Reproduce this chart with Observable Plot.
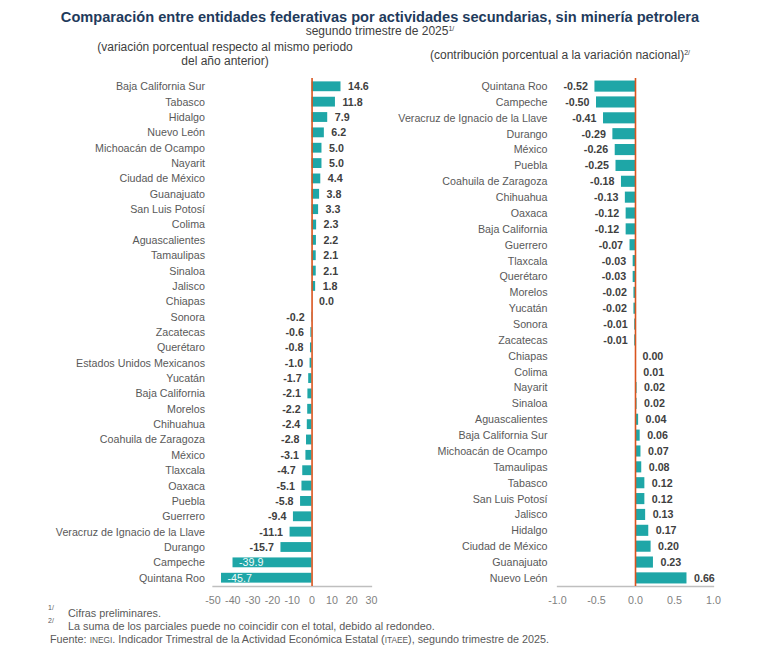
<!DOCTYPE html>
<html>
<head>
<meta charset="utf-8">
<script src="https://cdn.jsdelivr.net/npm/d3@7"></script>
<script src="https://cdn.jsdelivr.net/npm/@observablehq/plot@0.6"></script>
<style>
  body { margin: 0; background: #fff; font-family: "Liberation Sans", Arial, sans-serif; }
  #wrap { position: relative; width: 778px; height: 645px; overflow: hidden; background: #fff; }
  .abs { position: absolute; white-space: nowrap; }
  #title { left: 0; width: 760px; top: 8px; text-align: center; font-size: 14.6px; font-weight: bold; color: #1f3b5c; line-height: 18px; }
  #subtitle { left: 0; width: 760px; top: 24px; text-align: center; font-size: 12px; color: #404040; line-height: 14px; }
  #lhead { left: 75px; width: 300px; top: 40px; text-align: center; font-size: 12px; color: #404040; line-height: 14px; }
  #rhead { left: 430px; top: 48px; font-size: 12px; color: #404040; line-height: 14px; }
  sup { font-size: 7px; vertical-align: 4px; line-height: 0; }
  .fn { font-size: 10.8px; color: #595959; line-height: 12px; }
  .sc { font-size: 8.3px; }
  #left { left: 0; top: 60px; width: 390px; }
  #right { left: 390px; top: 60px; width: 388px; }
</style>
</head>
<body>
<div id="wrap">
  <div class="abs" id="left"></div>
  <div class="abs" id="right"></div>
  <div class="abs" id="title">Comparación entre entidades federativas por actividades secundarias, sin minería petrolera</div>
  <div class="abs" id="subtitle">segundo trimestre de 2025<sup>1/</sup></div>
  <div class="abs" id="lhead">(variación porcentual respecto al mismo periodo<br>del año anterior)</div>
  <div class="abs" id="rhead">(contribución porcentual a la variación nacional)<sup>2/</sup></div>
  <div class="abs fn" style="left:48px; top:604px;"><sup>1/</sup></div>
  <div class="abs fn" style="left:68px; top:607px;">Cifras preliminares.</div>
  <div class="abs fn" style="left:48px; top:617px;"><sup>2/</sup></div>
  <div class="abs fn" style="left:68px; top:620px;">La suma de los parciales puede no coincidir con el total, debido al redondeo.</div>
  <div class="abs fn" style="left:50px; top:633px;">Fuente: <span class="sc">INEGI</span>. Indicador Trimestral de la Actividad Económica Estatal (<span class="sc">ITAEE</span>), segundo trimestre de 2025.</div>
</div>
<script>
// Left panel: variación porcentual anual
const leftStates = [
  "Baja California Sur", "Tabasco", "Hidalgo", "Nuevo León", "Michoacán de Ocampo",
  "Nayarit", "Ciudad de México", "Guanajuato", "San Luis Potosí", "Colima",
  "Aguascalientes", "Tamaulipas", "Sinaloa", "Jalisco", "Chiapas",
  "Sonora", "Zacatecas", "Querétaro", "Estados Unidos Mexicanos", "Yucatán",
  "Baja California", "Morelos", "Chihuahua", "Coahuila de Zaragoza", "México",
  "Tlaxcala", "Oaxaca", "Puebla", "Guerrero", "Veracruz de Ignacio de la Llave",
  "Durango", "Campeche", "Quintana Roo"
];
const leftValues = [
  14.6, 11.8, 7.9, 6.2, 5.0,
  5.0, 4.4, 3.8, 3.3, 2.3,
  2.2, 2.1, 2.1, 1.8, 0.0,
  -0.2, -0.6, -0.8, -1.0, -1.7,
  -2.1, -2.2, -2.4, -2.8, -3.1,
  -4.7, -5.1, -5.8, -9.4, -11.1,
  -15.7, -39.9, -45.7
];
const leftTicks = [-50, -40, -30, -20, -10, 0, 10, 20, 30];

// Right panel: contribución porcentual a la variación nacional
const rightStates = [
  "Quintana Roo", "Campeche", "Veracruz de Ignacio de la Llave", "Durango", "México",
  "Puebla", "Coahuila de Zaragoza", "Chihuahua", "Oaxaca", "Baja California",
  "Guerrero", "Tlaxcala", "Querétaro", "Morelos", "Yucatán",
  "Sonora", "Zacatecas", "Chiapas", "Colima", "Nayarit",
  "Sinaloa", "Aguascalientes", "Baja California Sur", "Michoacán de Ocampo", "Tamaulipas",
  "Tabasco", "San Luis Potosí", "Jalisco", "Hidalgo", "Ciudad de México",
  "Guanajuato", "Nuevo León"
];
const rightValues = [
  -0.52, -0.50, -0.41, -0.29, -0.26,
  -0.25, -0.18, -0.13, -0.12, -0.12,
  -0.07, -0.03, -0.03, -0.02, -0.02,
  -0.01, -0.01, 0.00, 0.01, 0.02,
  0.02, 0.04, 0.06, 0.07, 0.08,
  0.12, 0.12, 0.13, 0.17, 0.20,
  0.23, 0.66
];
const rightTicks = [-1.0, -0.5, 0.0, 0.5, 1.0];

const TEAL = "#1ea6a7";
const RED = "#d9541e";

function panel(o) {
  const data = o.states.map((s, i) => ({state: s, value: o.values[i]}));
  const fmt = (v) => v.toFixed(o.decimals);
  const isInside = (d) => o.insideBelow !== undefined && d.value < o.insideBelow;
  const pos = data.filter(d => !isInside(d) && d.value >= 0);
  const neg = data.filter(d => !isInside(d) && d.value < 0);
  const ins = data.filter(d => isInside(d));
  return Plot.plot({
    width: o.width,
    height: 560,
    marginTop: 18,
    marginBottom: 34,
    marginLeft: o.marginLeft,
    marginRight: o.marginRight,
    style: {fontFamily: "'Liberation Sans', Arial, sans-serif", fontSize: "10.7px", background: "transparent", color: "#595959"},
    x: {domain: o.domain},
    y: {domain: o.states, paddingInner: o.pIn, paddingOuter: o.pOut, round: false},
    marks: [
      Plot.frame({anchor: "bottom", stroke: "#bfbfbf", strokeWidth: 1.3}),
      Plot.barX(data, {x: "value", y: "state", fill: TEAL}),
      Plot.ruleX([0], {stroke: RED, strokeWidth: 1.6}),
      Plot.text(pos, {x: "value", y: "state", text: d => fmt(d.value), textAnchor: "start", dx: o.dx, fontWeight: "bold", fill: "#404040"}),
      Plot.text(neg, {x: "value", y: "state", text: d => fmt(d.value), textAnchor: "end", dx: -o.dx, fontWeight: "bold", fill: "#404040"}),
      Plot.text(ins, {x: "value", y: "state", text: d => fmt(d.value), textAnchor: "start", dx: 6, fill: "#f2fafa"}),
      Plot.axisX({ticks: o.ticks, tickFormat: d => o.tickFmt(d), tickSize: 0, tickPadding: 10, fill: "#7f7f7f", label: null}),
      Plot.axisY({tickSize: 0, tickPadding: o.yPad, fill: "#595959", label: null})
    ]
  });
}

document.getElementById("left").appendChild(panel({
  states: leftStates, values: leftValues, ticks: leftTicks,
  tickFmt: d => String(d), decimals: 1, domain: [-50, 30],
  width: 390, marginLeft: 212.5, marginRight: 19,
  pIn: 0.36, pOut: 0.22, dx: 7, yPad: 8, insideBelow: -30
}));

document.getElementById("right").appendChild(panel({
  states: rightStates, values: rightValues, ticks: rightTicks,
  tickFmt: d => d.toFixed(1), decimals: 2, domain: [-1, 1],
  width: 388, marginLeft: 167, marginRight: 65,
  pIn: 0.3, pOut: 0.16, dx: 7, yPad: 10
}));
</script>
</body>
</html>
